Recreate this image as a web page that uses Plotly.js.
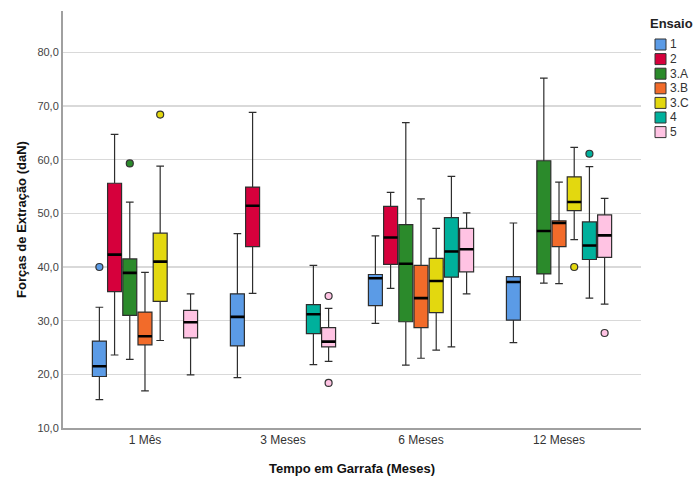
<!DOCTYPE html>
<html>
<head>
<meta charset="utf-8">
<script src="https://cdn.plot.ly/plotly-3.0.1.min.js"></script>
<style>html,body{margin:0;padding:0;background:#fff;}#chart{width:694px;height:479px;}</style>
</head>
<body>
<div id="chart"></div>
<script>
// Categories (x axis)
var categories = ["1 Mês", "3 Meses", "6 Meses", "12 Meses"];
var seriesNames = ["1", "2", "3.A", "3.B", "3.C", "4", "5"];
var legendTitle = "Ensaio";

// Series 1
var s1_x = ["1 Mês", "3 Meses", "6 Meses", "12 Meses"];
var s1_low = [15.3, 19.4, 29.5, 25.9];
var s1_q1 = [19.6, 25.3, 32.8, 30.1];
var s1_med = [21.5, 30.7, 37.9, 37.2];
var s1_q3 = [26.2, 35.0, 38.6, 38.2];
var s1_up = [32.5, 46.2, 45.8, 48.2];
var s1_out = [[40.0], [], [], []];

// Series 2
var s2_x = ["1 Mês", "3 Meses", "6 Meses"];
var s2_low = [23.6, 35.1, 36.0];
var s2_q1 = [35.4, 43.8, 40.5];
var s2_med = [42.3, 51.4, 45.5];
var s2_q3 = [55.6, 54.9, 51.3];
var s2_up = [64.7, 68.8, 53.9];
var s2_out = [[], [], []];

// Series 3.A
var s3a_x = ["1 Mês", "6 Meses", "12 Meses"];
var s3a_low = [22.8, 21.7, 37.0];
var s3a_q1 = [31.0, 29.8, 38.7];
var s3a_med = [38.9, 40.6, 46.7];
var s3a_q3 = [41.5, 47.9, 59.8];
var s3a_up = [52.1, 66.9, 75.2];
var s3a_out = [[59.3], [], []];

// Series 3.B
var s3b_x = ["1 Mês", "6 Meses", "12 Meses"];
var s3b_low = [16.9, 23.0, 36.9];
var s3b_q1 = [25.5, 28.7, 43.8];
var s3b_med = [27.1, 34.2, 48.2];
var s3b_q3 = [31.6, 40.3, 48.6];
var s3b_up = [39.0, 52.7, 55.8];
var s3b_out = [[], [], []];

// Series 3.C
var s3c_x = ["1 Mês", "6 Meses", "12 Meses"];
var s3c_low = [26.3, 24.5, 45.1];
var s3c_q1 = [33.6, 31.5, 50.5];
var s3c_med = [41.0, 37.4, 52.1];
var s3c_q3 = [46.3, 41.6, 56.8];
var s3c_up = [58.8, 47.2, 62.3];
var s3c_out = [[68.4], [], [40.0]];

// Series 4
var s4_x = ["3 Meses", "6 Meses", "12 Meses"];
var s4_low = [21.8, 25.1, 34.2];
var s4_q1 = [27.6, 38.1, 41.4];
var s4_med = [31.2, 42.9, 44.0];
var s4_q3 = [33.0, 49.2, 48.4];
var s4_up = [40.3, 56.9, 58.7];
var s4_out = [[], [], [61.1]];

// Series 5
var s5_x = ["1 Mês", "3 Meses", "6 Meses", "12 Meses"];
var s5_low = [19.9, 22.4, 35.0, 33.1];
var s5_q1 = [26.8, 25.1, 39.1, 41.8];
var s5_med = [29.7, 26.1, 43.3, 45.9];
var s5_q3 = [31.9, 28.7, 47.2, 49.7];
var s5_up = [35.0, 32.3, 50.1, 52.8];
var s5_out = [[], [34.6, 18.4], [], [27.7]];

var colors = ["#5b9be6", "#d6003c", "#2b8a2b", "#f26b2a", "#e3d80f", "#00b09c", "#ffc3e3"];

var series = [
  [s1_x, s1_low, s1_q1, s1_med, s1_q3, s1_up, s1_out],
  [s2_x, s2_low, s2_q1, s2_med, s2_q3, s2_up, s2_out],
  [s3a_x, s3a_low, s3a_q1, s3a_med, s3a_q3, s3a_up, s3a_out],
  [s3b_x, s3b_low, s3b_q1, s3b_med, s3b_q3, s3b_up, s3b_out],
  [s3c_x, s3c_low, s3c_q1, s3c_med, s3c_q3, s3c_up, s3c_out],
  [s4_x, s4_low, s4_q1, s4_med, s4_q3, s4_up, s4_out],
  [s5_x, s5_low, s5_q1, s5_med, s5_q3, s5_up, s5_out]
];

function pick(arr, order) { return order.map(function (k) { return arr[k]; }); }

var traces = [];
series.forEach(function (s, i) {
  // positions carrying outliers go first (Plotly reads sample dims from the first row)
  var idx = s[0].map(function (_, k) { return k; });
  idx.sort(function (a, b) { return (s[6][b].length > 0) - (s[6][a].length > 0); });
  var hasOut = s[6].some(function (r) { return r.length > 0; });
  var t = {
    type: "box",
    name: seriesNames[i],
    offsetgroup: seriesNames[i],
    x: pick(s[0], idx),
    lowerfence: pick(s[1], idx),
    q1: pick(s[2], idx),
    median: pick(s[3], idx),
    q3: pick(s[4], idx),
    upperfence: pick(s[5], idx),
    boxpoints: hasOut ? "outliers" : false,
    pointpos: 0,
    jitter: 0,
    whiskerwidth: 0.55,
    fillcolor: colors[i],
    line: { color: "#2e2e2e", width: 1.2 },
    marker: { color: colors[i], size: 7, line: { color: "#333", width: 1.2 } },
    hoverinfo: "skip"
  };
  if (hasOut) t.y = pick(s[6], idx);
  traces.push(t);
});
// thicker median lines, drawn in the same slots
series.forEach(function (s, i) {
  traces.push({
    type: "box",
    name: seriesNames[i],
    offsetgroup: seriesNames[i],
    x: s[0],
    lowerfence: s[3],
    q1: s[3],
    median: s[3],
    q3: s[3],
    upperfence: s[3],
    boxpoints: false,
    whiskerwidth: 0,
    fillcolor: "rgba(0,0,0,0)",
    line: { color: "#000", width: 2.6 },
    hoverinfo: "skip"
  });
});

// Legend built from the series names / colours (SPSS-style compact legend)
var M = { l: 63, r: 53, t: 11, b: 51 };
var W = 694, H = 479;
var pw = W - M.l - M.r, ph = H - M.t - M.b;
function px(x) { return (x - M.l) / pw; }
function py(y) { return (H - M.b - y) / ph; }
var legX = 655, legY0 = 44.5, legStep = 14.6, sw = 11;
var shapes = [], annotations = [];
annotations.push({
  xref: "paper", yref: "paper", x: px(648), y: py(23),
  xanchor: "left", yanchor: "middle", showarrow: false,
  text: "<b>" + legendTitle + "</b>",
  font: { size: 13, color: "#222" }
});
seriesNames.forEach(function (n, i) {
  var cy = legY0 + i * legStep;
  shapes.push({
    type: "rect", xref: "paper", yref: "paper",
    x0: px(legX), x1: px(legX + sw), y0: py(cy - sw / 2), y1: py(cy + sw / 2),
    fillcolor: colors[i], line: { color: "#333", width: 1 }
  });
  annotations.push({
    xref: "paper", yref: "paper", x: px(legX + sw + 2), y: py(cy),
    xanchor: "left", yanchor: "middle", showarrow: false,
    text: n, font: { size: 12, color: "#333" }
  });
});

var layout = {
  width: W,
  height: H,
  paper_bgcolor: "#fff",
  plot_bgcolor: "#fff",
  font: { family: "Liberation Sans, Arial, sans-serif", size: 12, color: "#333" },
  separators: ",.",
  margin: M,
  boxmode: "group",
  boxgap: 0.229,
  boxgroupgap: 0.08,
  showlegend: false,
  shapes: shapes,
  annotations: annotations,
  xaxis: {
    type: "category",
    categoryorder: "array",
    categoryarray: categories,
    range: [-0.594, 3.594],
    showline: true, linecolor: "#a0a0a0", linewidth: 2,
    showgrid: false, zeroline: false,
    ticks: "",
    tickfont: { size: 12, color: "#333" },
    title: { text: "<b>Tempo em Garrafa (Meses)</b>", font: { size: 13, color: "#111" }, standoff: 17 }
  },
  yaxis: {
    range: [10, 87.7],
    tick0: 10, dtick: 10,
    tickformat: ".1f",
    showline: true, linecolor: "#a0a0a0", linewidth: 2,
    showgrid: true, gridcolor: "#d9d9d9", gridwidth: 1.5,
    zeroline: false,
    ticks: "",
    tickfont: { size: 11, color: "#444" },
    title: { text: "<b>Forças de Extração (daN)</b>", font: { size: 13, color: "#111" }, standoff: 8 }
  }
};

Plotly.newPlot("chart", traces, layout, { displayModeBar: false, staticPlot: true });
</script>
</body>
</html>
